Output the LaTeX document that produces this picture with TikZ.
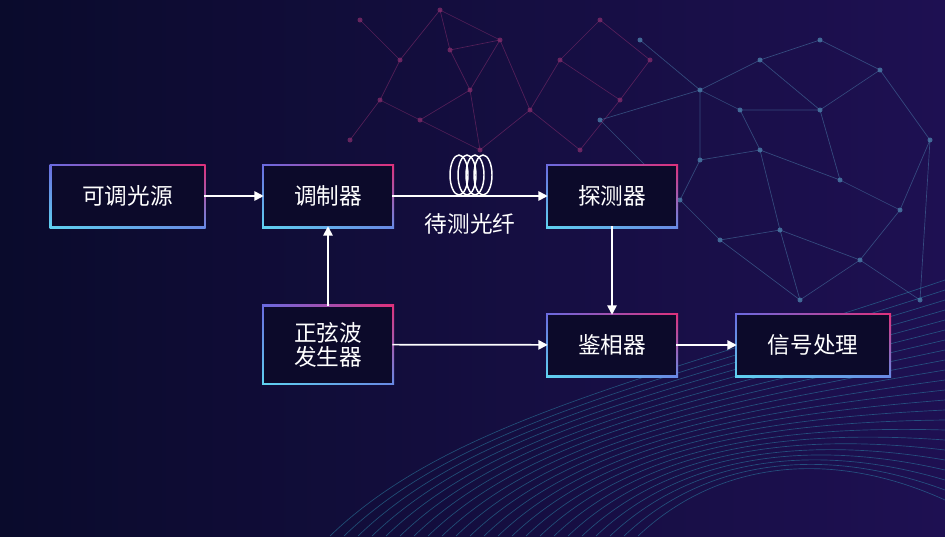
\documentclass[tikz,border=0pt]{standalone}
\usepackage{fontspec}
\setmainfont{Noto Sans CJK SC}
\usetikzlibrary{backgrounds,arrows.meta,shadings}
\definecolor{bgA}{HTML}{0A0B2C}
\definecolor{bgB}{HTML}{1E1052}
\definecolor{boxbg}{HTML}{0C0A2A}
\definecolor{cyanb}{HTML}{5FD3F0}
\definecolor{pinkb}{HTML}{E0307A}
\definecolor{midb}{HTML}{6A6AE0}
\definecolor{netpink}{HTML}{8A2E6E}
\definecolor{netblue}{HTML}{4A7CA8}
\definecolor{wave}{HTML}{2E8FB0}
\tikzset{
  box/.style={fill=boxbg, text=white, font=\fontsize{17}{20}\selectfont, minimum height=45pt, align=center, inner sep=0pt},
  arr/.style={draw=white, line width=1.3pt, -{Triangle[length=7pt,width=7pt]}},
  netl/.style={line width=0.5pt, opacity=0.55},
}
\newcommand{\gborder}[1]{\shade[upper left=midb, upper right=pinkb, lower left=cyanb, lower right=midb!70!cyanb] ([shift={(-1.3pt,-1.3pt)}]#1.south west) rectangle ([shift={(1.3pt,1.3pt)}]#1.north east);}
\begin{document}
\begin{tikzpicture}[x=0.75pt,y=-0.75pt]
\useasboundingbox (0,0) rectangle (945,536);
% nodes
\node[box,minimum width=114pt] (src) at (127.5,196) {可调光源};
\node[box,minimum width=96pt] (mod) at (328,196) {调制器};
\node[box,minimum width=96pt] (det) at (612,196) {探测器};
\node[box,minimum width=96pt,minimum height=57pt] (sin) at (328,344.5) {正弦波\\[-2pt]发生器};
\node[box,minimum width=96pt] (pha) at (612,345) {鉴相器};
\node[box,minimum width=114pt] (sig) at (813,345) {信号处理};
\begin{scope}[on background layer]
\shade[left color=bgA, right color=bgB] (0,0) rectangle (945,536);
% network pink
\foreach \a/\b in {360/20,400/60,440/10,470/90,420/120,380/100,350/140,500/40,530/110,560/60,600/20,620/100,580/150,650/60,480/150,450/50}{
  \fill[netpink,opacity=0.7] (\a,\b) circle (2.5);}
\draw[netpink,netl] (360,20)--(400,60)--(440,10)--(450,50)--(470,90)--(420,120)--(380,100)--(350,140) (400,60)--(380,100) (470,90)--(500,40)--(530,110)--(560,60)--(600,20)--(650,60)--(620,100)--(580,150)--(530,110) (450,50)--(500,40) (560,60)--(620,100) (420,120)--(480,150)--(530,110) (470,90)--(480,150) (440,10)--(500,40);
% network blue
\foreach \a/\b in {640/40,700/90,760/60,820/110,880/70,930/140,700/160,760/150,840/180,900/210,780/230,720/240,860/260,920/300,800/300,740/110,600/120,680/200,820/40}{
  \fill[netblue,opacity=0.8] (\a,\b) circle (2.5);}
\draw[netblue,netl] (640,40)--(700,90)--(760,60)--(820,110)--(880,70)--(930,140)--(900,210)--(840,180)--(820,110) (700,90)--(700,160)--(760,150)--(840,180) (760,150)--(780,230)--(720,240)--(680,200)--(700,160) (780,230)--(860,260)--(900,210) (860,260)--(920,300)--(930,140) (860,260)--(800,300)--(780,230) (740,110)--(700,90) (740,110)--(760,150) (740,110)--(820,110) (600,120)--(700,90) (600,120)--(680,200) (820,40)--(760,60) (820,40)--(880,70) (800,300)--(720,240);
% waves
\foreach \i in {0,...,22}{
  \draw[wave,line width=0.5pt,opacity=0.5] (330+\i*14,536) .. controls (450+\i*12,420+\i*2) and (650+\i*8,380+\i*3) .. (945,280+\i*10);}
\gborder{src}\gborder{mod}\gborder{det}\gborder{sin}\gborder{pha}\gborder{sig}
\end{scope}
% fiber coil
\foreach \dx in {-12,-4,4,12}{
  \draw[white,line width=1.1pt] (471+\dx,175) ellipse (9 and 20);}
\node[text=white,font=\fontsize{17}{20}\selectfont] (lab) at (470,224) {待测光纤};
\draw[arr] (src) -- (mod);
\draw[arr] (mod) -- (det);
\draw[arr] (sin) -- (mod);
\draw[arr] (det) -- (pha);
\draw[arr] (sin) -- (pha);
\draw[arr] (pha) -- (sig);
\end{tikzpicture}
\end{document}
